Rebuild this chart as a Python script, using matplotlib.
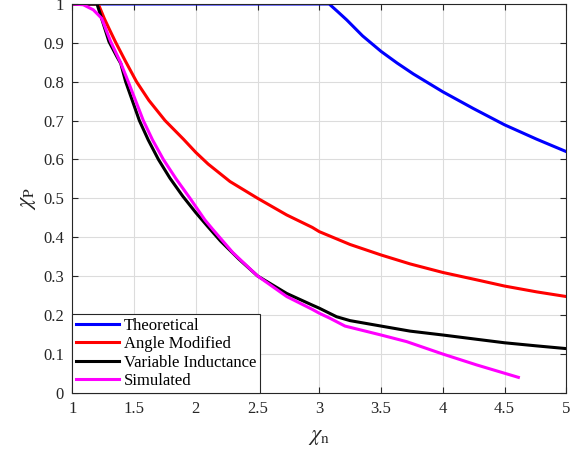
import numpy as np
import matplotlib
matplotlib.use('Agg')
import matplotlib.pyplot as plt

plt.rcParams['font.family'] = ['Liberation Serif', 'DejaVu Serif']
plt.rcParams['mathtext.fontset'] = 'stix'

# curves
theo_x = [1.0, 3.08, 3.15, 3.222, 3.35, 3.5, 3.63, 3.761, 4.0, 4.247, 4.5, 4.76, 5.0]
theo_y = [1.0, 1.0, 0.98, 0.959, 0.918, 0.878, 0.848, 0.82, 0.774, 0.731, 0.689, 0.652, 0.62]

angle_x = [1.0, 1.21, 1.26, 1.3, 1.35, 1.43, 1.52, 1.62, 1.751, 1.9, 2.0, 2.1, 2.277,
           2.5, 2.736, 2.943, 3.0, 3.249, 3.5, 3.735, 4.0, 4.274, 4.5, 4.76, 5.0]
angle_y = [1.0, 1.0, 0.962, 0.935, 0.902, 0.853, 0.8, 0.752, 0.70, 0.652, 0.618, 0.588, 0.543,
           0.5, 0.457, 0.425, 0.414, 0.381, 0.354, 0.331, 0.309, 0.29, 0.274, 0.259, 0.247]

var_x = [1.0, 1.2, 1.25, 1.297, 1.36, 1.392, 1.432, 1.543, 1.615, 1.697, 1.79, 1.895, 2.0, 2.1,
         2.2, 2.35, 2.5, 2.736, 2.943, 3.0, 3.14, 3.249, 3.5, 3.735, 4.0, 4.274, 4.5, 4.76, 5.0]
var_y = [1.0, 1.0, 0.95, 0.903, 0.865, 0.847, 0.8, 0.70, 0.65, 0.6, 0.552, 0.505, 0.463, 0.426,
         0.39, 0.343, 0.3, 0.255, 0.225, 0.217, 0.195, 0.185, 0.171, 0.158, 0.148, 0.137, 0.128, 0.12, 0.113]

sim_x = [1.0, 1.089, 1.17, 1.238, 1.311, 1.39, 1.453, 1.575, 1.65, 1.737, 1.84, 1.953, 2.074,
         2.137, 2.3, 2.5, 2.736, 2.943, 3.0, 3.087, 3.208, 3.5, 3.707, 4.0, 4.274, 4.612]
sim_y = [1.0, 0.998, 0.985, 0.963, 0.903, 0.85, 0.8, 0.70, 0.65, 0.6, 0.55, 0.5, 0.444,
         0.42, 0.36, 0.3, 0.247, 0.214, 0.204, 0.191, 0.171, 0.148, 0.131, 0.099, 0.071, 0.039]

fig = plt.figure(figsize=(5.84, 4.58), dpi=100)
ax = fig.add_axes([0.1238, 0.143, 0.8459, 0.8483])

lw = 2.2
ax.plot(theo_x, theo_y, color='#0000ff', lw=lw, label='Theoretical')
ax.plot(angle_x, angle_y, color='#ff0000', lw=lw, label='Angle Modified')
ax.plot(var_x, var_y, color='#000000', lw=lw, label='Variable Inductance')
ax.plot(sim_x, sim_y, color='#ff00ff', lw=lw, label='Simulated')

ax.set_xlim(1, 5)
ax.set_ylim(0, 1)
ax.set_xticks(np.arange(1, 5.01, 0.5))
ax.set_xticklabels(['1', '1.5', '2', '2.5', '3', '3.5', '4', '4.5', '5'])
ax.set_yticks(np.arange(0, 1.01, 0.1))
ax.set_yticklabels(['0', '0.1', '0.2', '0.3', '0.4', '0.5', '0.6', '0.7', '0.8', '0.9', '1'])
ax.grid(True, color='#dcdcdc', lw=0.8)
ax.tick_params(direction='in', top=True, right=True, labelsize=12, colors='#262626', length=4, pad=6)
for s in ax.spines.values():
    s.set_color('#262626')
    s.set_linewidth(0.8)

ax.set_xlabel(r'$\chi_\mathrm{n}$', fontsize=16, color='#262626', labelpad=8)
ax.set_ylabel(r'$\chi_\mathrm{P}$', fontsize=16, color='#262626', labelpad=4)

leg = ax.legend(loc='lower left', fontsize=12, fancybox=False, framealpha=1,
                edgecolor='#262626', borderaxespad=0, borderpad=0.2,
                handlelength=2.6, handletextpad=0.3, labelspacing=0.15)
leg.get_frame().set_linewidth(0.8)

fig.savefig('out.png', dpi=100)
